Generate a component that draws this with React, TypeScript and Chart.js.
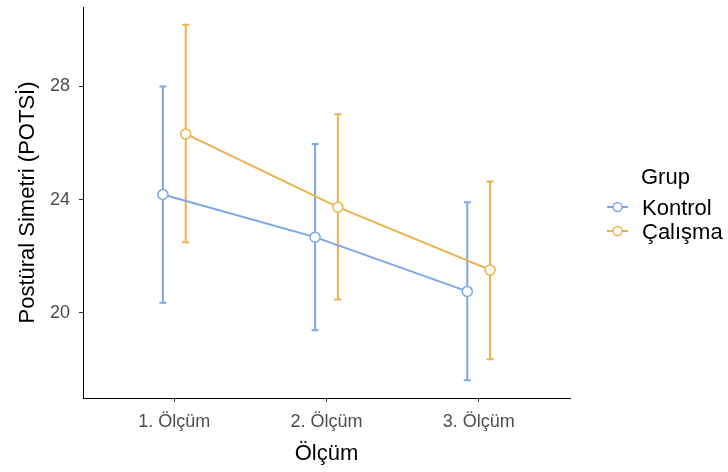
import React, { useEffect, useRef } from "react";
import Chart from "chart.js/auto";

const categories = ["1. Ölçüm", "2. Ölçüm", "3. Ölçüm"];
const groups = ["Kontrol", "Çalışma"];
const kontrolMean = [24.18, 22.67, 20.75];
const kontrolLower = [20.35, 19.38, 17.61];
const kontrolUpper = [28.0, 25.96, 23.9];
const calismaMean = [26.32, 23.73, 21.51];
const calismaLower = [22.49, 20.46, 18.35];
const calismaUpper = [30.18, 27.02, 24.64];
const yTicks = [20, 24, 28];

const COLORS = ["#7BA7E9", "#EBB24C"];
const DODGE = 0.075;
const FONT = "'Liberation Sans', Arial, Helvetica, sans-serif";

export default function App() {
  const ref = useRef<HTMLCanvasElement | null>(null);

  useEffect(() => {
    const canvas = ref.current;
    if (!canvas) return;

    const means = [kontrolMean, calismaMean];
    const lowers = [kontrolLower, calismaLower];
    const uppers = [kontrolUpper, calismaUpper];
    const offsets = [-DODGE, DODGE];

    const errorBars = {
      id: "errorBars",
      beforeDatasetsDraw(chart: any) {
        const ctx = chart.ctx;
        const xs = chart.scales.x;
        const ys = chart.scales.y;
        ctx.save();
        ctx.lineWidth = 2;
        ctx.lineCap = "butt";
        for (let g = 0; g < groups.length; g++) {
          ctx.strokeStyle = COLORS[g];
          for (let i = 0; i < categories.length; i++) {
            const x = xs.getPixelForValue(i + 1 + offsets[g]);
            const yl = ys.getPixelForValue(lowers[g][i]);
            const yu = ys.getPixelForValue(uppers[g][i]);
            ctx.beginPath();
            ctx.moveTo(x, yl);
            ctx.lineTo(x, yu);
            ctx.moveTo(x - 3.5, yl);
            ctx.lineTo(x + 3.5, yl);
            ctx.moveTo(x - 3.5, yu);
            ctx.lineTo(x + 3.5, yu);
            ctx.stroke();
          }
        }
        ctx.restore();
      },
    };

    const legendPlugin = {
      id: "ggLegend",
      afterDraw(chart: any) {
        const ctx = chart.ctx;
        ctx.save();
        ctx.textBaseline = "middle";
        ctx.textAlign = "left";
        ctx.font = `22px ${FONT}`;
        ctx.fillStyle = "#000000";
        ctx.fillText("Grup", 641, 177.5);
        const rows = [208.5, 232.5];
        for (let g = 0; g < groups.length; g++) {
          const y = rows[g] - 1.5;
          ctx.strokeStyle = COLORS[g];
          ctx.lineWidth = 2;
          ctx.beginPath();
          ctx.moveTo(607, y);
          ctx.lineTo(628, y);
          ctx.stroke();
          ctx.beginPath();
          ctx.arc(617.5, y, 4.5, 0, Math.PI * 2);
          ctx.fillStyle = "#ffffff";
          ctx.fill();
          ctx.lineWidth = 1.5;
          ctx.stroke();
          ctx.fillStyle = "#000000";
          ctx.fillText(groups[g], 642, rows[g]);
        }
        ctx.restore();
      },
    };

    const datasets = groups.map((name, g) => ({
      label: name,
      data: means[g].map((v, i) => ({ x: i + 1 + offsets[g], y: v })),
      borderColor: COLORS[g],
      backgroundColor: "#ffffff",
      borderWidth: 2,
      pointRadius: 5,
      pointBorderWidth: 1.5,
      pointBackgroundColor: "#ffffff",
      pointBorderColor: COLORS[g],
      tension: 0,
      fill: false,
    }));

    const chart = new Chart(canvas, {
      type: "line",
      data: { datasets },
      plugins: [errorBars, legendPlugin],
      options: {
        responsive: false,
        animation: false,
        devicePixelRatio: 1,
        layout: { padding: { top: 7, right: 158, left: 0, bottom: 0 } },
        plugins: {
          legend: { display: false },
          tooltip: { enabled: false },
        },
        scales: {
          x: {
            type: "linear",
            min: 0.4,
            max: 3.6,
            afterBuildTicks(scale: any) {
              scale.ticks = categories.map((_, i) => ({ value: i + 1 }));
            },
            afterFit(scale: any) {
              scale.height = 74;
              scale.paddingLeft = 0;
              scale.paddingRight = 0;
            },
            ticks: {
              autoSkip: false,
              maxRotation: 0,
              padding: 9,
              color: "#4D4D4D",
              font: { family: FONT, size: 18 },
              callback: (v: any) => categories[Math.round(Number(v)) - 1] ?? "",
            },
            grid: {
              display: true,
              drawOnChartArea: false,
              drawTicks: true,
              tickLength: 4,
              tickColor: "#333333",
              tickWidth: 1,
            },
            border: { display: true, color: "#000000", width: 1 },
            title: {
              display: true,
              text: "Ölçüm",
              color: "#000000",
              font: { family: FONT, size: 22, lineHeight: 1 },
              padding: { top: 0, bottom: 7 },
            },
          },
          y: {
            type: "linear",
            min: 16.98,
            max: 30.81,
            afterBuildTicks(scale: any) {
              scale.ticks = yTicks.map((v) => ({ value: v }));
            },
            afterFit(scale: any) {
              scale.width = 83;
              scale.paddingTop = 0;
              scale.paddingBottom = 0;
            },
            ticks: {
              padding: 9,
              color: "#4D4D4D",
              font: { family: FONT, size: 18 },
              callback: (v: any) => String(v),
            },
            grid: {
              display: true,
              drawOnChartArea: false,
              drawTicks: true,
              tickLength: 4,
              tickColor: "#333333",
              tickWidth: 1,
            },
            border: { display: true, color: "#000000", width: 1 },
            title: {
              display: true,
              text: "Postüral Simetri (POTSİ)",
              color: "#000000",
              font: { family: FONT, size: 22, lineHeight: 1 },
              padding: { top: 17, bottom: 0 },
            },
          },
        },
      },
    });

    return () => chart.destroy();
  }, []);

  return (
    <div style={{ position: "absolute", left: 0, top: 0, width: 728, height: 472, background: "#ffffff" }}>
      <canvas ref={ref} width={728} height={472} style={{ display: "block" }} />
    </div>
  );
}
